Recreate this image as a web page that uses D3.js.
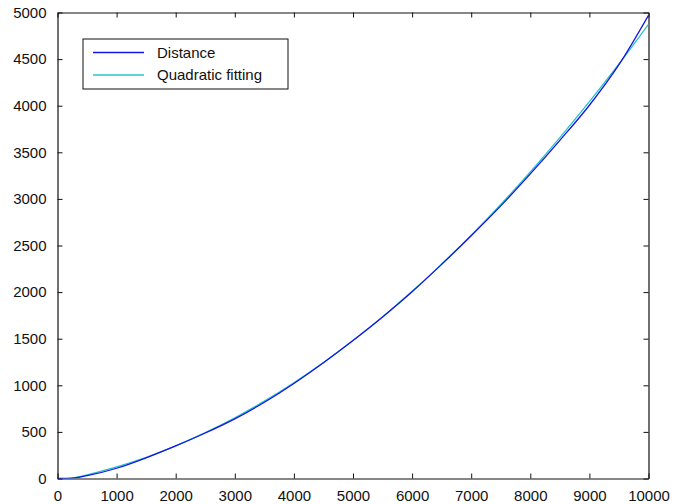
<!DOCTYPE html>
<html>
<head>
<meta charset="utf-8">
<script src="https://cdn.jsdelivr.net/npm/d3@7"></script>
<style>
  body { margin: 0; background: #fff; }
  svg { display: block; font-family: "Liberation Sans", Arial, sans-serif; }
</style>
</head>
<body>
<div id="chart"></div>
<script>
// x positions where both curves were read
const xValues = [0, 250, 500, 1000, 1500, 2000, 2500, 3000, 3500, 4000, 4500, 5000,
  5500, 6000, 6500, 7000, 7500, 8000, 8500, 9000, 9500, 10000];
// Distance series
const distance = [0, 3, 30, 110, 222, 350, 488, 640, 818, 1020, 1242, 1480,
  1732, 2003, 2298, 2605, 2925, 3268, 3628, 4005, 4440, 4970];
// Quadratic fitting series
const quadFit = [-25, 5, 40, 125, 228, 350, 492, 652, 830, 1028, 1245, 1480,
  1734, 2008, 2300, 2611, 2941, 3289, 3657, 4043, 4448, 4873];
const xTicks = [0, 1000, 2000, 3000, 4000, 5000, 6000, 7000, 8000, 9000, 10000];
const yTicks = [0, 500, 1000, 1500, 2000, 2500, 3000, 3500, 4000, 4500, 5000];
const seriesNames = ["Distance", "Quadratic fitting"];
const seriesColors = ["#1414e6", "#26c3cc"];

const width = 692, height = 504;
const margin = { top: 12.5, right: 43.5, bottom: 25.5, left: 57.5 };

const svg = d3.select("#chart").append("svg")
  .attr("width", width)
  .attr("height", height);

const x = d3.scaleLinear().domain([0, 10000]).range([margin.left, width - margin.right]);
const y = d3.scaleLinear().domain([0, 5000]).range([height - margin.bottom, margin.top]);

svg.append("clipPath").attr("id", "plot-clip")
  .append("rect")
  .attr("x", x(0)).attr("y", y(5000))
  .attr("width", x(10000) - x(0)).attr("height", y(0) - y(5000));

// axes: ticks point inward, like the box in the original
const tickLen = 5;
const fmt = d3.format("d");

const axisBottomG = svg.append("g")
  .attr("transform", `translate(0,${y(0)})`)
  .call(d3.axisBottom(x).tickValues(xTicks).tickFormat(fmt).tickSizeInner(-tickLen).tickSizeOuter(0).tickPadding(12));
const axisLeftG = svg.append("g")
  .attr("transform", `translate(${x(0)},0)`)
  .call(d3.axisLeft(y).tickValues(yTicks).tickFormat(fmt).tickSizeInner(-tickLen).tickSizeOuter(0).tickPadding(11));
const axisTopG = svg.append("g")
  .attr("transform", `translate(0,${y(5000)})`)
  .call(d3.axisTop(x).tickValues(xTicks).tickFormat("").tickSizeInner(-tickLen).tickSizeOuter(0));
const axisRightG = svg.append("g")
  .attr("transform", `translate(${x(10000)},0)`)
  .call(d3.axisRight(y).tickValues(yTicks).tickFormat("").tickSizeInner(-tickLen).tickSizeOuter(0));

[axisBottomG, axisLeftG, axisTopG, axisRightG].forEach((g) => {
  g.select(".domain").attr("stroke", "#111").attr("stroke-width", 1.2);
  g.selectAll(".tick line").attr("stroke", "#111");
  g.selectAll(".tick text").attr("fill", "#111").attr("font-size", 15);
});
axisBottomG.selectAll(".tick text").attr("dy", "0.71em");

// lines
const rows = xValues.map((v, i) => ({ x: v, d: distance[i], q: quadFit[i] }));

const line = (key) => d3.line()
  .x((d) => x(d.x))
  .y((d) => y(d[key]))
  .curve(d3.curveMonotoneX);

const plot = svg.append("g").attr("clip-path", "url(#plot-clip)");
plot.append("path")
  .datum(rows)
  .attr("d", line("q"))
  .attr("fill", "none")
  .attr("stroke", seriesColors[1])
  .attr("stroke-width", 1.3);
plot.append("path")
  .datum(rows)
  .attr("d", line("d"))
  .attr("fill", "none")
  .attr("stroke", seriesColors[0])
  .attr("stroke-width", 1.3);

// legend
const legend = svg.append("g").attr("transform", "translate(83,39)");
legend.append("rect")
  .attr("width", 205).attr("height", 50)
  .attr("fill", "#fff").attr("stroke", "#111").attr("stroke-width", 1);
seriesNames.forEach((name, i) => {
  const cy = 13.5 + i * 22.5;
  legend.append("line")
    .attr("x1", 10).attr("x2", 61)
    .attr("y1", cy).attr("y2", cy)
    .attr("stroke", seriesColors[i]).attr("stroke-width", 1.3);
  legend.append("text")
    .attr("x", 74).attr("y", cy)
    .attr("dy", "0.35em")
    .attr("font-size", 15)
    .attr("fill", "#111")
    .text(name);
});
</script>
</body>
</html>
